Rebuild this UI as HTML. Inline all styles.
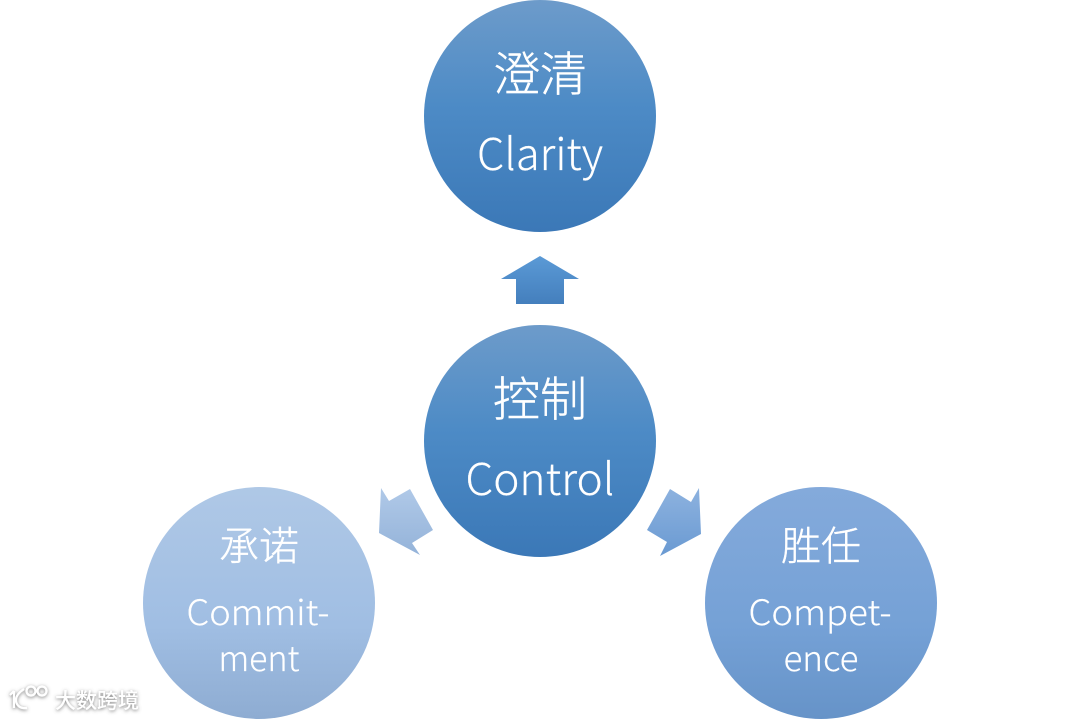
<!DOCTYPE html>
<html><head><meta charset="utf-8">
<style>
html,body{margin:0;padding:0;background:#fff;width:1080px;height:720px;overflow:hidden}
svg{display:block}
text{fill:#fff;text-anchor:middle;font-family:"Noto Sans CJK SC","Liberation Sans",sans-serif;font-weight:300;stroke:#fff;stroke-width:.2}
.cjk{font-family:"Noto Sans CJK SC","WenQuanYi Zen Hei",sans-serif;font-weight:300;stroke-width:.4}
</style></head><body>
<svg width="1080" height="720" viewBox="0 0 1080 720" xmlns="http://www.w3.org/2000/svg">
<defs>
<linearGradient id="d" x1="0" y1="0" x2="0" y2="1"><stop offset="0" stop-color="#6d9bca"/><stop offset=".45" stop-color="#4d8bc6"/><stop offset="1" stop-color="#3b78b7"/></linearGradient>
<linearGradient id="a" x1="0" y1="0" x2="0" y2="1"><stop offset="0" stop-color="#5b9ad6"/><stop offset="1" stop-color="#447fbd"/></linearGradient>
<linearGradient id="l" x1="0" y1="0" x2="0" y2="1"><stop offset="0" stop-color="#afc8e6"/><stop offset=".6" stop-color="#a0bee3"/><stop offset="1" stop-color="#8eacd2"/></linearGradient>
<linearGradient id="r" x1="0" y1="0" x2="0" y2="1"><stop offset="0" stop-color="#84aadb"/><stop offset=".6" stop-color="#75a1d6"/><stop offset="1" stop-color="#6693c8"/></linearGradient>
<linearGradient id="la" x1="0" y1="0" x2="0" y2="1"><stop offset="0" stop-color="#b0c9e8"/><stop offset="1" stop-color="#94b3d9"/></linearGradient>
<linearGradient id="ra" x1="0" y1="0" x2="0" y2="1"><stop offset="0" stop-color="#8db2df"/><stop offset="1" stop-color="#6a9ad2"/></linearGradient>
<filter id="s" x="-20%" y="-40%" width="140%" height="180%"><feDropShadow dx="0" dy="1" stdDeviation="1.8" flood-color="#666" flood-opacity=".9"/></filter>
</defs>
<circle cx="540" cy="116" r="116" fill="url(#d)"/>
<circle cx="540" cy="441" r="116" fill="url(#d)"/>
<circle cx="259" cy="603" r="116" fill="url(#l)"/>
<circle cx="821" cy="603" r="116" fill="url(#r)"/>
<polygon points="540,256 579,279 564,279 564,304 516,304 516,279 501,279" fill="url(#a)"/>
<polygon points="381,488 389,501 410,489 433,530 412,543 420,555 379,533" fill="url(#la)"/>
<polygon points="699,488 691,502 670,489 647,530 667,542 660,556 701,534" fill="url(#ra)"/>
<text class="cjk" x="540" y="91" font-size="47">澄清</text>
<text x="540" y="170" font-size="44" textLength="126" lengthAdjust="spacingAndGlyphs">Clarity</text>
<text class="cjk" x="540" y="416" font-size="47">控制</text>
<text x="540" y="495" font-size="44" textLength="149" lengthAdjust="spacingAndGlyphs">Control</text>
<text class="cjk" x="259" y="560" font-size="40">承诺</text>
<text x="258" y="625" font-size="35" textLength="143" lengthAdjust="spacingAndGlyphs">Commit-</text>
<text x="259" y="671" font-size="35" textLength="81" lengthAdjust="spacingAndGlyphs">ment</text>
<text class="cjk" x="821" y="560" font-size="40">胜任</text>
<text x="820" y="625" font-size="35" textLength="143" lengthAdjust="spacingAndGlyphs">Compet-</text>
<text x="821" y="671" font-size="35" textLength="75" lengthAdjust="spacingAndGlyphs">ence</text>
<g filter="url(#s)">
<g fill="none" stroke="#fff" stroke-width="2.2">
<path d="M14 691 L14 708 M10 695 L14 691 M24 689 C18 693 16 697 16 700 C16 705 20 709 27 708"/>
<circle cx="31" cy="691" r="4.5"/>
<circle cx="42" cy="691" r="4.5"/>
</g>
<text class="cjk" x="97" y="708" font-size="21" style="font-weight:500;stroke-width:0">大数跨境</text>
</g>
</svg>
</body></html>
